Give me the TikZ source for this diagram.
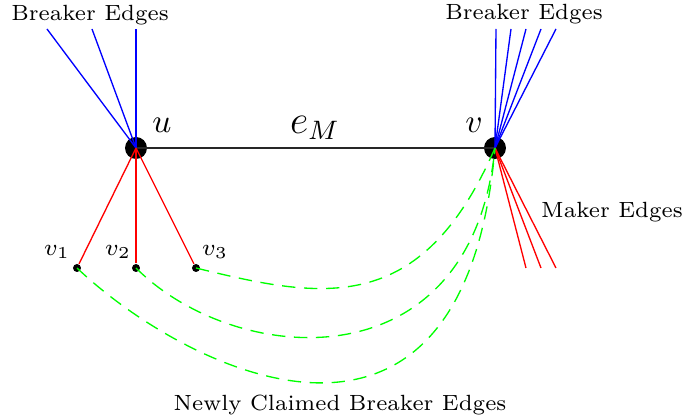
\documentclass[tikz,border=0pt]{standalone}
\usepackage{amsmath}
\usepackage{tikz}
\usetikzlibrary{positioning,calc}
\tikzset{
  vtx/.style={circle,fill=black,inner sep=0pt,minimum size=6.6pt},
  leaf/.style={circle,fill=black,inner sep=0pt,minimum size=2.4pt},
  breaker/.style={draw=blue,line width=0.4pt},
  maker/.style={draw=red,line width=0.4pt},
  claimed/.style={draw=green,line width=0.4pt,dash pattern=on 4pt off 2.6pt},
  match/.style={draw=black!85,line width=0.6pt},
  tlab/.style={font=\fontsize{6.6pt}{8pt}\selectfont,inner sep=1pt},
}

\begin{document}
\begin{tikzpicture}[x=0.3pt,y=-0.3pt]
  \useasboundingbox (0,0) rectangle (683,420);
  % the matched edge
  \node[vtx] (u) at (136,148) {};
  \node[vtx] (v) at (495,148) {};
  \draw[match] (u.center) -- (v.center);
  \node at (162,125) {$u$};
  \node at (474,125) {$v$};
  \node at (315,128) {\large $e_M$};
  % leaves of u
  \node[leaf] (v1) at (77,268) {};
  \node[leaf] (v2) at (136,268) {};
  \node[leaf] (v3) at (196,268) {};
  \node[font=\scriptsize,inner sep=1pt] at (57,252) {$v_1$};
  \node[font=\scriptsize,inner sep=1pt] at (118,252) {$v_2$};
  \node[font=\scriptsize,inner sep=1pt] at (215,252) {$v_3$};
  % breaker edges
  \foreach \x [count=\i] in {47,92,136}
    {\coordinate (bu\i) at (\x,29);
     \draw[breaker] (u.center) -- (bu\i);}
  \foreach \x [count=\i] in {496,511,526,541,556}
    {\coordinate (bv\i) at (\x,29);
     \draw[breaker] (v.center) -- (bv\i);}
  \node[tlab] at (90,15) {Breaker Edges};
  \node[tlab] at (524,14) {Breaker Edges};
  % maker edges
  \foreach \n in {v1,v2,v3}
    \draw[maker] (u.center) -- (\n);
  \foreach \x [count=\i] in {526,541,556}
    {\coordinate (mv\i) at (\x,268);
     \draw[maker] (v.center) -- (mv\i);}
  \node[tlab] at (612,212) {Maker Edges};
  % newly claimed
  \draw[claimed] (v3.center) .. controls +(126,31) and +(-74,170) .. (v.center);
  \draw[claimed] (v2.center) .. controls +(99,99) and +(-24,239) .. (v.center);
  \draw[claimed] (v1.center) .. controls +(104,99) and +(-32,367) .. (v.center);
  \node[tlab] at (340,405) {Newly Claimed Breaker Edges};
\end{tikzpicture}
\end{document}
